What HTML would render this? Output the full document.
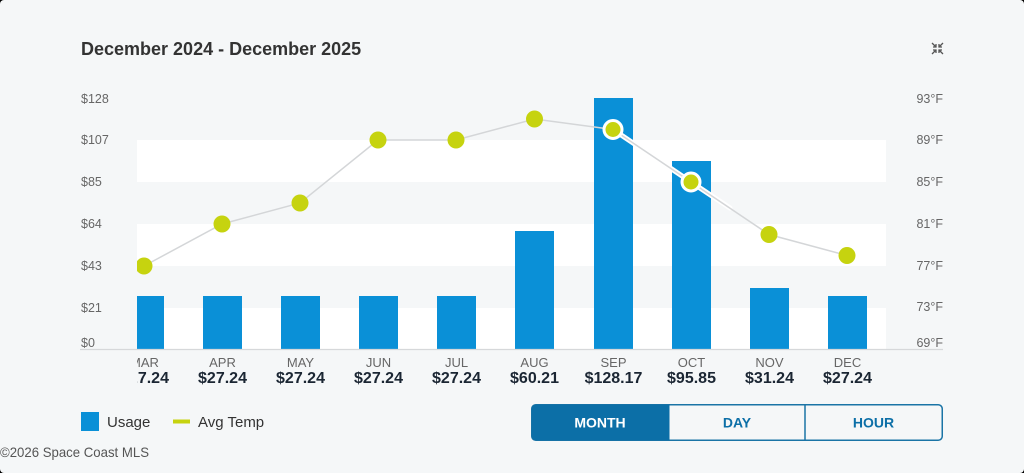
<!DOCTYPE html>
<html><head><meta charset="utf-8"><style>
html,body{margin:0;padding:0;background:#000;width:1024px;height:473px;overflow:hidden}
.card{position:absolute;left:0;top:0;width:1024px;height:473px;background:#f5f7f8;border-radius:4px;overflow:hidden}
svg{position:absolute;left:0;top:0}
text{font-family:"Liberation Sans",Arial,sans-serif}
</style></head><body><div class="card">
<svg width="1024" height="473" viewBox="0 0 1024 473" xmlns="http://www.w3.org/2000/svg">
<defs><clipPath id="pc"><rect x="137" y="80" width="760" height="320"/></clipPath></defs>
<text x="81" y="55" font-size="18" font-weight="bold" fill="#333">December 2024 - December 2025</text>
<!-- compress icon -->
<g stroke="#555" stroke-width="1.3" fill="none">
<path d="M932 43 L936 47 M936 44 V47 H933"/>
<path d="M943 43 L939 47 M939 44 V47 H942"/>
<path d="M932 54 L936 50 M936 53 V50 H933"/>
<path d="M943 54 L939 50 M939 53 V50 H942"/>
</g>
<!-- bands -->
<rect x="137" y="140" width="749" height="42" fill="#fff"/>
<rect x="137" y="224" width="749" height="42" fill="#fff"/>
<rect x="137" y="308" width="749" height="42" fill="#fff"/>
<!-- left axis labels -->
<g font-size="12.5" fill="#666">
<text x="81" y="103">$128</text>
<text x="81" y="144">$107</text>
<text x="81" y="186">$85</text>
<text x="81" y="228">$64</text>
<text x="81" y="270">$43</text>
<text x="81" y="312">$21</text>
<text x="81" y="347">$0</text>
</g>
<g font-size="12.5" fill="#666" text-anchor="end">
<text x="943" y="103">93°F</text>
<text x="943" y="144">89°F</text>
<text x="943" y="186">85°F</text>
<text x="943" y="228">81°F</text>
<text x="943" y="270">77°F</text>
<text x="943" y="311">73°F</text>
<text x="943" y="347">69°F</text>
</g>
<!-- bars -->
<g fill="#0a90d7" clip-path="url(#pc)">
<rect x="125" y="296" width="39" height="54"/>
<rect x="203" y="296" width="39" height="54"/>
<rect x="281" y="296" width="39" height="54"/>
<rect x="359" y="296" width="39" height="54"/>
<rect x="437" y="296" width="39" height="54"/>
<rect x="515" y="231" width="39" height="119"/>
<rect x="594" y="98" width="39" height="252"/>
<rect x="672" y="161" width="39" height="189"/>
<rect x="750" y="288" width="39" height="62"/>
<rect x="828" y="296" width="39" height="54"/>
</g>
<line x1="80" y1="349.5" x2="943" y2="349.5" stroke="#d6d8da" stroke-width="1.2"/>
<!-- line -->
<polyline points="613,129.5 691,182 730,208" fill="none" stroke="#fff" stroke-width="5" stroke-linecap="round"/>
<polyline points="144,266 222,224 300,203 378,140 456,140 534.5,119 613,129.5 691,182 769,234.5 847,255.5" fill="none" stroke="#d4d6d8" stroke-width="1.5" clip-path="url(#pc)"/>
<g fill="#c6d30f" clip-path="url(#pc)">
<circle cx="144" cy="266" r="8.5"/>
<circle cx="222" cy="224" r="8.5"/>
<circle cx="300" cy="203" r="8.5"/>
<circle cx="378" cy="140" r="8.5"/>
<circle cx="456" cy="140" r="8.5"/>
<circle cx="534.5" cy="119" r="8.5"/>
<circle cx="613" cy="129.5" r="9" stroke="#fff" stroke-width="3"/>
<circle cx="691" cy="182" r="9" stroke="#fff" stroke-width="3"/>
<circle cx="769" cy="234.5" r="8.5"/>
<circle cx="847" cy="255.5" r="8.5"/>
</g>
<!-- x labels -->
<g clip-path="url(#pc)" text-anchor="middle">
<g font-size="13" fill="#666">
<text x="144.5" y="367">MAR</text>
<text x="222.5" y="367">APR</text>
<text x="300.5" y="367">MAY</text>
<text x="378.5" y="367">JUN</text>
<text x="456.5" y="367">JUL</text>
<text x="534.5" y="367">AUG</text>
<text x="613.5" y="367">SEP</text>
<text x="691.5" y="367">OCT</text>
<text x="769.5" y="367">NOV</text>
<text x="847.5" y="367">DEC</text>
</g>
<g font-size="16" font-weight="bold" fill="#1b2633">
<text x="144.5" y="383">$27.24</text>
<text x="222.5" y="383">$27.24</text>
<text x="300.5" y="383">$27.24</text>
<text x="378.5" y="383">$27.24</text>
<text x="456.5" y="383">$27.24</text>
<text x="534.5" y="383">$60.21</text>
<text x="613.5" y="383">$128.17</text>
<text x="691.5" y="383">$95.85</text>
<text x="769.5" y="383">$31.24</text>
<text x="847.5" y="383">$27.24</text>
</g>
</g>
<!-- legend -->
<rect x="81" y="412" width="18" height="19" fill="#0a90d7"/>
<text x="107" y="427" font-size="15" fill="#333">Usage</text>
<rect x="173" y="419.5" width="17" height="4" fill="#c6d30f"/>
<text x="198" y="427" font-size="15" fill="#333">Avg Temp</text>
<!-- buttons -->
<rect x="531.75" y="404.75" width="410.5" height="35.5" rx="4" fill="#f5f7f8" stroke="#1a74a6" stroke-width="1.5"/>
<path d="M535.75 404.75 H669.5 V440.25 H535.75 A4 4 0 0 1 531.75 436.25 V408.75 A4 4 0 0 1 535.75 404.75 Z" fill="#0c6fa7"/>
<line x1="805" y1="405" x2="805" y2="440" stroke="#1a74a6" stroke-width="1.5"/>
<g font-size="14" font-weight="bold" text-anchor="middle">
<text x="600" y="427.5" fill="#fff">MONTH</text>
<text x="737" y="427.5" fill="#0c6fa7">DAY</text>
<text x="873.5" y="427.5" fill="#0c6fa7">HOUR</text>
</g>
<text x="0" y="457" font-size="14" fill="#555" textLength="149" lengthAdjust="spacingAndGlyphs">©2026 Space Coast MLS</text>
</svg>
</div></body></html>
